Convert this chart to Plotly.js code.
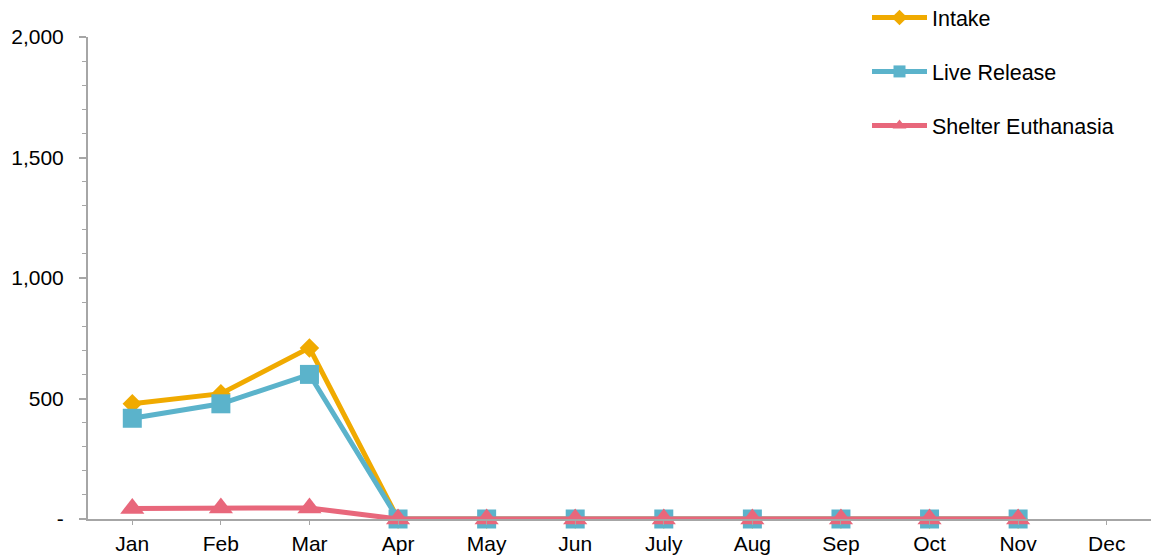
<!DOCTYPE html>
<html>
<head>
<meta charset="utf-8">
<script src="https://cdn.plot.ly/plotly-3.0.1.min.js"></script>
<style>
html,body{margin:0;padding:0;background:#fff;}
#chart{width:1151px;height:557px;}
</style>
</head>
<body>
<div id="chart"></div>
<script>
var months = ["Jan","Feb","Mar","Apr","May","Jun","July","Aug","Sep","Oct","Nov","Dec"];
var intake = [478, 520, 710, 0, 0, 0, 0, 0, 0, 0, 0, null];
var liveRelease = [418, 478, 600, 0, 0, 0, 0, 0, 0, 0, 0, null];
var euthanasia = [44, 46, 46, 0, 0, 0, 0, 0, 0, 0, 0, null];
var yTickVals = [0, 500, 1000, 1500, 2000];
var yTickText = ["-", "500", "1,000", "1,500", "2,000"];

var font = "Liberation Sans, Arial, sans-serif";
var axisGray = "#A6A6A6";

var traces = [
  {name:"Intake", x:months, y:intake, type:"scatter", mode:"lines+markers", cliponaxis:false,
   line:{color:"#F0AA00", width:5}, marker:{symbol:"diamond", size:15, color:"#F0AA00"},
   legendgroup:"a"},
  {name:"Live Release", x:months, y:liveRelease, type:"scatter", mode:"lines+markers", cliponaxis:false,
   line:{color:"#5BB3CB", width:5}, marker:{symbol:"square", size:19, color:"#5BB3CB"},
   legendgroup:"b"},
  {name:"Shelter Euthanasia", x:months, y:euthanasia, type:"scatter", mode:"lines+markers", cliponaxis:false,
   line:{color:"#E8677B", width:5}, marker:{symbol:"triangle-up", size:21, color:"#E8677B"},
   legendgroup:"c"}
];

var layout = {
  width:1151, height:557,
  margin:{l:88, r:0, t:37, b:38, autoexpand:false},
  paper_bgcolor:"#fff", plot_bgcolor:"#fff",
  font:{family:font, size:21, color:"#000"},
  showlegend:true,
  legend:{x:(867-88)/1063, xanchor:"left", y:(519+3)/482, yanchor:"top",
          traceorder:"grouped", tracegroupgap:23, itemwidth:55, itemsizing:"constant",
          bgcolor:"rgba(0,0,0,0)",
          font:{family:font, size:21.5, color:"#000"}},
  xaxis:{type:"category", range:[-0.5, 11.5], showgrid:false, zeroline:false,
         showline:true, linecolor:axisGray, linewidth:2,
         ticks:"outside", ticklen:4, tickcolor:axisGray, tickwidth:1,
         ticklabelstandoff:1, tickfont:{family:font, size:21, color:"#000"}},
  yaxis:{range:[0, 2000], showgrid:false, zeroline:false,
         showline:true, linecolor:axisGray, linewidth:2,
         tickmode:"array", tickvals:yTickVals, ticktext:yTickText,
         ticks:"outside", ticklen:7, tickcolor:axisGray, tickwidth:2,
         minor:{dtick:100, ticks:"outside", ticklen:4, tickcolor:axisGray, tickwidth:1},
         ticklabelstandoff:11, tickfont:{family:font, size:21, color:"#000"}}
};

Plotly.newPlot("chart", traces, layout, {displayModeBar:false, staticPlot:true});
</script>
</body>
</html>
